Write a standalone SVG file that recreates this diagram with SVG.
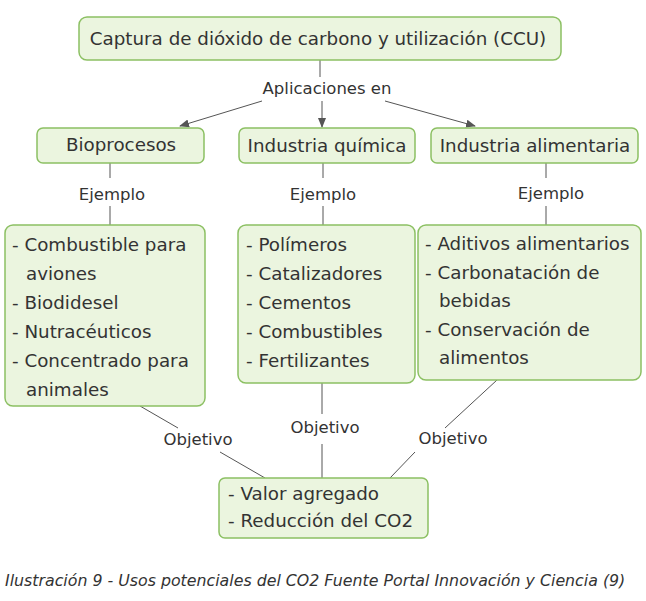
<svg xmlns="http://www.w3.org/2000/svg" width="646" height="601" viewBox="0 0 646 601">
<style>
.b{fill:#ebf5df;stroke:#8cc063;stroke-width:1.5}
text{font-family:"DejaVu Sans",Verdana,sans-serif;fill:#333}
.t{font-size:18.3px}
.l{font-size:16.5px}
.c{stroke:#555;stroke-width:1;fill:none}
</style>
<defs><marker id="a" markerWidth="10" markerHeight="8" refX="9" refY="4" orient="auto" markerUnits="userSpaceOnUse"><path d="M0,0L10,4L0,8z" fill="#555"/></marker></defs>
<rect width="646" height="601" fill="#fff"/>
<g id="connectors">
<line class="c" x1="320" y1="60" x2="320" y2="77"/>
<line class="c" x1="262" y1="101" x2="180" y2="126" marker-end="url(#a)"/>
<line class="c" x1="322" y1="101" x2="322" y2="127" marker-end="url(#a)"/>
<line class="c" x1="385" y1="101" x2="475" y2="126" marker-end="url(#a)"/>
<line class="c" x1="110" y1="163" x2="110" y2="178"/><line class="c" x1="110" y1="206" x2="110" y2="225"/>
<line class="c" x1="323" y1="163" x2="323" y2="178"/><line class="c" x1="323" y1="206" x2="323" y2="225"/>
<line class="c" x1="546" y1="163" x2="546" y2="178"/><line class="c" x1="546" y1="206" x2="546" y2="225"/>
<line class="c" x1="140" y1="406" x2="178" y2="428"/><line class="c" x1="220" y1="452" x2="265" y2="478"/>
<line class="c" x1="322" y1="383" x2="322" y2="414"/><line class="c" x1="322" y1="444" x2="322" y2="478"/>
<line class="c" x1="497" y1="380" x2="445" y2="428"/><line class="c" x1="415" y1="452" x2="390" y2="478"/>
<text class="l" x="327" y="94" text-anchor="middle">Aplicaciones en</text>
<text class="l" x="112" y="200" text-anchor="middle">Ejemplo</text>
<text class="l" x="323" y="200" text-anchor="middle">Ejemplo</text>
<text class="l" x="551" y="199" text-anchor="middle">Ejemplo</text>
<text class="l" x="198" y="445" text-anchor="middle">Objetivo</text>
<text class="l" x="325" y="433" text-anchor="middle">Objetivo</text>
<text class="l" x="453" y="444" text-anchor="middle">Objetivo</text>
</g>
<g id="ccu"><rect class="b" x="79" y="17" width="482" height="43" rx="8"/><text class="t" x="318" y="45" text-anchor="middle">Captura de dióxido de carbono y utilización (CCU)</text></g>
<g id="bio"><rect class="b" x="37" y="128" width="167" height="35" rx="6"/><text class="t" x="121" y="151" text-anchor="middle">Bioprocesos</text></g>
<g id="quim"><rect class="b" x="239" y="128" width="176" height="35" rx="6"/><text class="t" x="327" y="152" text-anchor="middle">Industria química</text></g>
<g id="alim"><rect class="b" x="431" y="128" width="207" height="35" rx="6"/><text class="t" x="535" y="152" text-anchor="middle">Industria alimentaria</text></g>
<g id="ej1"><rect class="b" x="5" y="225" width="200" height="181" rx="8"/>
<text class="t"><tspan x="12" y="251">- Combustible para</tspan><tspan x="26" y="280">aviones</tspan><tspan x="12" y="309">- Biodidesel</tspan><tspan x="12" y="338">- Nutracéuticos</tspan><tspan x="12" y="367">- Concentrado para</tspan><tspan x="26" y="396">animales</tspan></text></g>
<g id="ej2"><rect class="b" x="238" y="225" width="177" height="158" rx="8"/>
<text class="t"><tspan x="246" y="251">- Polímeros</tspan><tspan x="246" y="280">- Catalizadores</tspan><tspan x="246" y="309">- Cementos</tspan><tspan x="246" y="338">- Combustibles</tspan><tspan x="246" y="367">- Fertilizantes</tspan></text></g>
<g id="ej3"><rect class="b" x="418" y="225" width="223" height="155" rx="8"/>
<text class="t"><tspan x="425" y="250">- Aditivos alimentarios</tspan><tspan x="425" y="279">- Carbonatación de</tspan><tspan x="439" y="307">bebidas</tspan><tspan x="425" y="336">- Conservación de</tspan><tspan x="439" y="364">alimentos</tspan></text></g>
<g id="obj"><rect class="b" x="219" y="478" width="209" height="60" rx="6"/>
<text class="t"><tspan x="228" y="500">- Valor agregado</tspan><tspan x="228" y="527">- Reducción del CO2</tspan></text></g>
<text x="5" y="586" font-size="15.8" font-style="italic" fill="#444">Ilustración 9 - Usos potenciales del CO2 Fuente Portal Innovación y Ciencia (9)</text>
</svg>
